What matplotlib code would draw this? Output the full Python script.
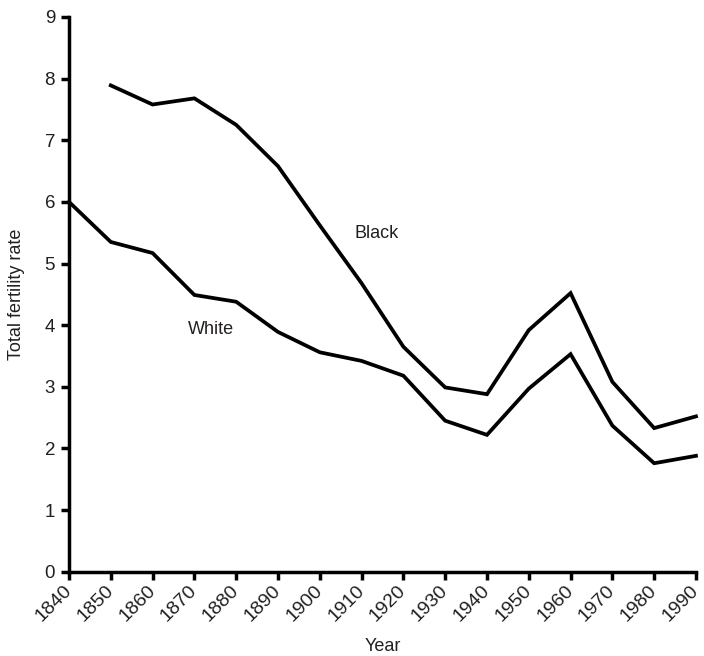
import matplotlib
matplotlib.use("Agg")
import matplotlib.pyplot as plt

years = [1840, 1850, 1860, 1870, 1880, 1890, 1900, 1910, 1920, 1930, 1940, 1950, 1960, 1970, 1980, 1990]
white = [6.0, 5.35, 5.17, 4.49, 4.38, 3.89, 3.56, 3.42, 3.18, 2.45, 2.22, 2.97, 3.53, 2.37, 1.76, 1.88]
black_years = [1850, 1860, 1870, 1880, 1890, 1900, 1910, 1920, 1930, 1940, 1950, 1960, 1970, 1980, 1990]
black = [7.89, 7.58, 7.68, 7.25, 6.58, 5.62, 4.68, 3.65, 2.99, 2.88, 3.92, 4.52, 3.08, 2.33, 2.52]
yticks = list(range(0, 10))
xticks = list(range(1840, 2000, 10))

plt.rcParams['font.family'] = ['Liberation Sans', 'DejaVu Sans']
text_color = '#231f20'

fig = plt.figure(figsize=(7.04, 6.56), dpi=100)
ax = fig.add_axes([0.098, 0.1285, 0.8906, 0.8456])

ax.plot(years, white, color='black', lw=2.7, solid_joinstyle='miter', clip_on=False, zorder=3)
ax.plot(black_years, black, color='black', lw=2.7, solid_joinstyle='miter', clip_on=False, zorder=3)

ax.set_xlim(1840, 1990)
ax.set_ylim(0, 9)
ax.set_xticks(xticks)
ax.set_yticks(yticks)
ax.set_xticklabels([str(x) for x in xticks], rotation=45, ha='right', va='center',
                   rotation_mode='anchor', fontsize=14, color=text_color)
ax.set_yticklabels([str(y) for y in yticks], fontsize=13.5, color=text_color)
for s in ['top', 'right']:
    ax.spines[s].set_visible(False)
for s in ['left', 'bottom']:
    ax.spines[s].set_linewidth(2.5)
    ax.spines[s].set_color('black')
ax.tick_params(axis='both', length=6, width=2.5, color='black', direction='out')
ax.tick_params(axis='x', pad=6)
ax.tick_params(axis='y', pad=4)

ax.set_xlabel('Year', fontsize=13, color=text_color, labelpad=9)
ax.set_ylabel('Total fertility rate', fontsize=13, color=text_color, labelpad=14)

ax.text(1913.5, 5.48, 'Black', fontsize=13, color=text_color, ha='center', va='center')
ax.text(1874.0, 3.93, 'White', fontsize=13, color=text_color, ha='center', va='center')

fig.savefig('out.png', dpi=100)
